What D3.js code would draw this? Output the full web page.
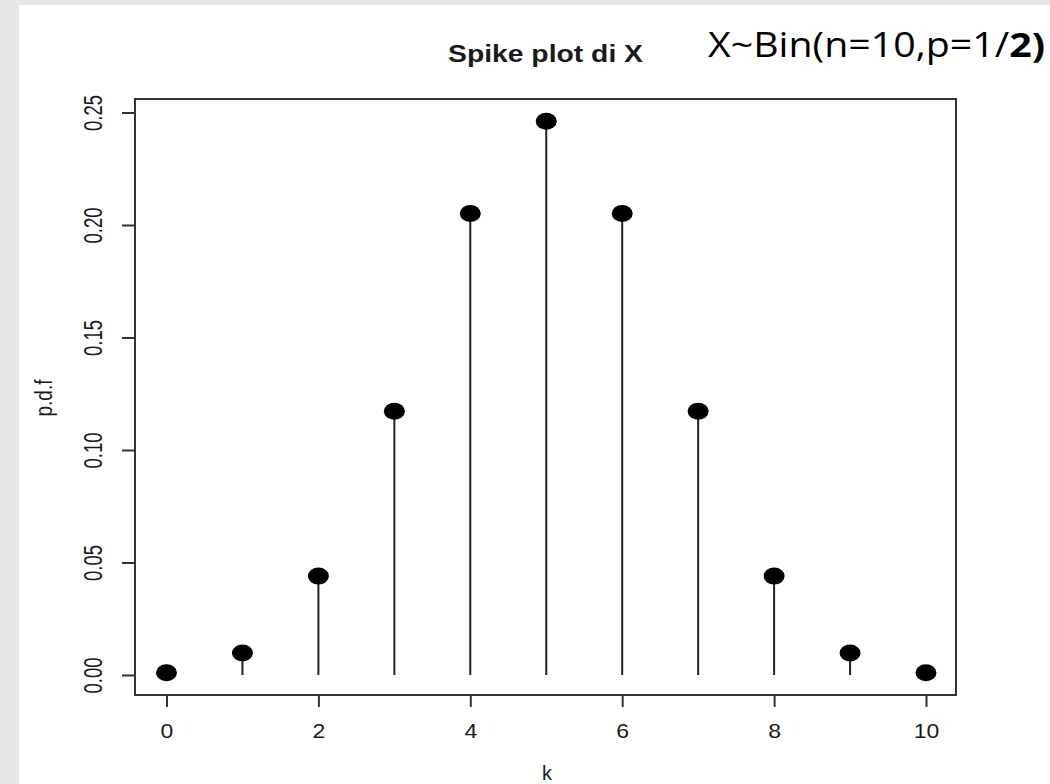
<!DOCTYPE html>
<html>
<head>
<meta charset="utf-8">
<script src="https://cdn.jsdelivr.net/npm/d3@7"></script>
<style>
  html, body { margin: 0; padding: 0; background: #e6e6e6; }
  svg { display: block; }
</style>
</head>
<body>
<svg id="chart" width="1050" height="784"></svg>
<script>
// ---- data ----
const kValues = [0, 1, 2, 3, 4, 5, 6, 7, 8, 9, 10];
const pdfValues = [0.000977, 0.009766, 0.043945, 0.117188, 0.205078, 0.246094, 0.205078, 0.117188, 0.043945, 0.009766, 0.000977];
const xTicks = [0, 2, 4, 6, 8, 10];
const yTicks = [0.00, 0.05, 0.10, 0.15, 0.20, 0.25];
const yTickLabels = ["0.00", "0.05", "0.10", "0.15", "0.20", "0.25"];
const titleText = "Spike plot di X";
const subtitleMain = "X~Bin(n=10,p=1/";
const subtitleBold = "2)";
const xLabel = "k";
const yLabel = "p.d.f";

const svg = d3.select("#chart");

// page background
svg.append("rect").attr("x", 0).attr("y", 0).attr("width", 1050).attr("height", 784).attr("fill", "#e6e6e6");
svg.append("rect").attr("x", 19).attr("y", 5).attr("width", 1031).attr("height", 779).attr("fill", "#ffffff");

const box = { left: 135, top: 99, right: 956, bottom: 695 };

const x = d3.scaleLinear().domain([0, 10]).range([166.5, 926]);
const y = d3.scaleLinear().domain([0, 0.25]).range([675, 112.5]);

const ink = "#1a1a1a";
const font = "'Liberation Sans', Arial, sans-serif";

// spikes
svg.append("g").selectAll("line").data(kValues).join("line")
  .attr("x1", d => x(d)).attr("x2", d => x(d))
  .attr("y1", y(0)).attr("y2", (d, i) => y(pdfValues[i]))
  .attr("stroke", "#222").attr("stroke-width", 2);

// points (stretched ellipses)
svg.append("g").selectAll("ellipse").data(kValues).join("ellipse")
  .attr("cx", d => x(d)).attr("cy", (d, i) => y(pdfValues[i]))
  .attr("rx", 10.5).attr("ry", 8.5).attr("fill", "#000");

// plot box
svg.append("rect")
  .attr("x", box.left).attr("y", box.top)
  .attr("width", box.right - box.left).attr("height", box.bottom - box.top)
  .attr("fill", "none").attr("stroke", "#333").attr("stroke-width", 2);

// x axis
const xAxis = svg.append("g").attr("transform", `translate(0,${box.bottom})`)
  .call(d3.axisBottom(x).tickValues(xTicks).tickSize(12).tickPadding(0).tickFormat(d3.format("d")));
xAxis.select(".domain").remove();
xAxis.selectAll(".tick line").attr("stroke", "#333").attr("stroke-width", 2);
xAxis.selectAll(".tick text").attr("y", null).attr("dy", null)
  .attr("transform", "translate(0,43) scale(1.15,1)")
  .attr("font-family", font).attr("font-size", 20).attr("fill", ink);

// y axis
const yAxis = svg.append("g").attr("transform", `translate(${box.left},0)`)
  .call(d3.axisLeft(y).tickValues(yTicks).tickSize(13).tickFormat((d, i) => yTickLabels[i]));
yAxis.select(".domain").remove();
yAxis.selectAll(".tick line").attr("stroke", "#333").attr("stroke-width", 2);
yAxis.selectAll(".tick text")
  .attr("x", null).attr("dy", null)
  .attr("text-anchor", "middle")
  .attr("transform", "translate(-33,0) rotate(-90) scale(1,1.4)")
  .attr("font-family", font).attr("font-size", 18.5).attr("fill", ink);

// axis labels
svg.append("text").attr("x", 547).attr("y", 780).attr("text-anchor", "middle")
  .attr("font-family", font).attr("font-size", 20).attr("fill", ink).text(xLabel);
svg.append("text").attr("text-anchor", "middle")
  .attr("transform", `translate(52,398) rotate(-90) scale(1,1.25)`)
  .attr("font-family", font).attr("font-size", 19).attr("fill", ink).text(yLabel);

// title
svg.append("text").attr("x", 448).attr("y", 62)
  .attr("textLength", 195).attr("lengthAdjust", "spacingAndGlyphs")
  .attr("font-family", font).attr("font-weight", "bold").attr("font-size", 23).attr("fill", ink)
  .text(titleText);

// subtitle
const sub = svg.append("text").attr("x", 708).attr("y", 57)
  .attr("textLength", 337).attr("lengthAdjust", "spacingAndGlyphs")
  .attr("font-family", "'Open Sans', 'Noto Sans', sans-serif").attr("font-size", 34).attr("fill", "#000");
sub.append("tspan").text(subtitleMain);
sub.append("tspan").attr("font-weight", "bold").text(subtitleBold);
</script>
</body>
</html>
